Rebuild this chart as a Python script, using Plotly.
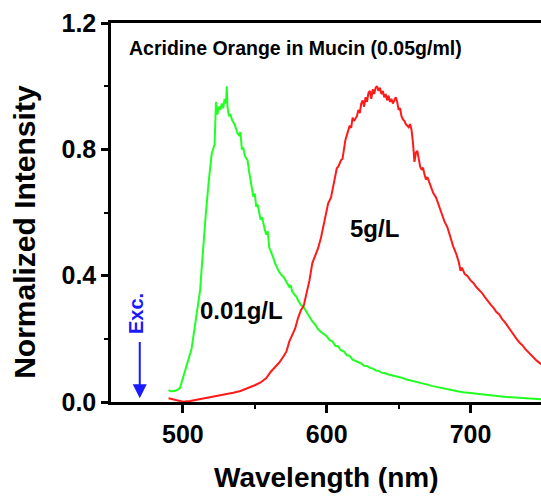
import plotly.graph_objects as go

# Emission spectra of acridine orange in mucin (normalized)
wl_low = [490, 492, 494, 496, 498, 500, 502, 504, 506, 508, 510, 512, 513, 514, 516, 518, 520,
          521, 522, 523, 524, 525, 526, 527, 528, 529, 530, 530.5, 531, 532, 533, 534, 535, 536,
          537, 538, 539, 540, 541, 542, 543, 544, 545, 546, 547, 548, 549, 550, 551, 552, 553,
          554, 555, 556, 557, 558, 559, 560, 561, 562, 563, 564, 565, 566, 567, 568, 570, 572,
          574, 575, 576, 578, 579, 580, 582, 584, 586, 588, 590, 592, 594, 596, 598, 600, 602,
          604, 606, 608, 610, 612, 614, 616, 618, 620, 622, 624, 626, 628, 630, 632, 634, 636,
          638, 640, 643, 646, 649, 652, 655, 658, 661, 664, 667, 670, 673, 676, 679, 682, 685,
          688, 691, 695, 700, 705, 710, 715, 720, 725, 730, 735, 740, 745, 750]
int_low = [0.037, 0.034, 0.035, 0.038, 0.045, 0.075, 0.105, 0.135, 0.168, 0.230, 0.300, 0.355,
           0.420, 0.490, 0.600, 0.700, 0.785, 0.800, 0.815, 0.950, 0.910, 0.935, 0.925, 0.945,
           0.930, 0.960, 0.945, 1.000, 0.935, 0.905, 0.912, 0.895, 0.888, 0.878, 0.865, 0.850,
           0.845, 0.855, 0.800, 0.805, 0.780, 0.770, 0.765, 0.730, 0.700, 0.685, 0.650, 0.660,
           0.618, 0.625, 0.595, 0.578, 0.585, 0.560, 0.545, 0.530, 0.540, 0.490, 0.480, 0.465,
           0.455, 0.440, 0.428, 0.420, 0.412, 0.405, 0.396, 0.378, 0.364, 0.370, 0.350, 0.338,
           0.333, 0.322, 0.308, 0.300, 0.285, 0.269, 0.255, 0.245, 0.230, 0.222, 0.215, 0.208,
           0.196, 0.192, 0.178, 0.176, 0.163, 0.160, 0.148, 0.146, 0.134, 0.130, 0.124, 0.122,
           0.115, 0.114, 0.108, 0.106, 0.100, 0.099, 0.093, 0.092, 0.087, 0.084, 0.079, 0.077,
           0.072, 0.069, 0.066, 0.062, 0.058, 0.055, 0.051, 0.048, 0.045, 0.041, 0.039, 0.036,
           0.034, 0.031, 0.028, 0.025, 0.023, 0.020, 0.018, 0.016, 0.014, 0.012, 0.011, 0.009,
           0.008]

wl_high = [490, 493, 496, 500, 505, 510, 515, 520, 525, 530, 535, 540, 545, 550, 554, 558, 561,
           564, 567, 570, 572, 574, 576, 578, 580, 582, 584, 586, 588, 590, 592, 594, 596, 598,
           599, 600, 601, 603, 605, 607, 608, 610, 611, 613, 615, 616, 617, 618, 619, 621, 622,
           623, 624, 625, 626, 627, 628, 629, 630, 631, 632, 633, 634, 635, 636, 637, 638, 639,
           640, 641, 642, 643, 644, 645, 646, 647, 648, 649, 650, 651, 652, 653, 654, 655, 656,
           657, 658, 659, 660, 661, 662, 663, 664, 665, 666, 667, 668, 669, 670, 672, 674, 676,
           678, 680, 682, 684, 686, 688, 690, 692, 693, 694, 696, 698, 700, 702, 704, 706, 708,
           710, 712, 714, 716, 718, 720, 722, 724, 726, 728, 730, 732, 734, 736, 738, 740, 742,
           744, 746, 748, 750]
int_high = [0.012, 0.008, 0.004, 0.001, 0.003, 0.007, 0.011, 0.015, 0.020, 0.024, 0.029, 0.035,
            0.043, 0.053, 0.062, 0.076, 0.095, 0.110, 0.125, 0.145, 0.160, 0.192, 0.210, 0.232,
            0.265, 0.290, 0.305, 0.345, 0.385, 0.440, 0.465, 0.487, 0.520, 0.560, 0.590, 0.605,
            0.629, 0.648, 0.700, 0.740, 0.745, 0.766, 0.770, 0.830, 0.860, 0.875, 0.868, 0.900,
            0.890, 0.905, 0.925, 0.915, 0.945, 0.955, 0.935, 0.965, 0.950, 0.978, 0.985, 0.960,
            0.990, 0.975, 0.995, 1.000, 0.985, 0.995, 0.975, 0.985, 0.965, 0.975, 0.955, 0.970,
            0.950, 0.960, 0.945, 0.955, 0.965, 0.950, 0.925, 0.930, 0.905, 0.895, 0.890, 0.880,
            0.875, 0.870, 0.880, 0.860, 0.820, 0.760, 0.790, 0.795, 0.770, 0.745, 0.735, 0.742,
            0.720, 0.705, 0.712, 0.690, 0.662, 0.648, 0.622, 0.600, 0.570, 0.552, 0.520, 0.492,
            0.470, 0.440, 0.415, 0.425, 0.405, 0.398, 0.385, 0.377, 0.364, 0.356, 0.345, 0.332,
            0.318, 0.308, 0.298, 0.285, 0.277, 0.262, 0.252, 0.238, 0.226, 0.214, 0.200, 0.188,
            0.180, 0.168, 0.158, 0.150, 0.140, 0.131, 0.124, 0.117]

label_low = "0.01g/L"
label_high = "5g/L"
title_text = "Acridine Orange in Mucin (0.05g/ml)"
exc_wl = 470

FONT = "Liberation Sans, Arial, sans-serif"

fig = go.Figure()
fig.add_trace(go.Scatter(x=wl_low, y=int_low, mode="lines",
                         line=dict(color="#22ff22", width=2), showlegend=False))
fig.add_trace(go.Scatter(x=wl_high, y=int_high, mode="lines",
                         line=dict(color="#ff1a1a", width=2), showlegend=False))

annotations = [
    dict(text="<b>%s</b>" % title_text, x=0.038, y=0.935, xref="paper", yref="paper",
         xanchor="left", yanchor="middle", showarrow=False,
         font=dict(family=FONT, size=19.5, color="black")),
    dict(text="<b>%s</b>" % label_low, x=541, y=0.29, xref="x", yref="y",
         xanchor="center", yanchor="middle", showarrow=False,
         font=dict(family=FONT, size=24, color="black")),
    dict(text="<b>%s</b>" % label_high, x=633, y=0.55, xref="x", yref="y",
         xanchor="center", yanchor="middle", showarrow=False,
         font=dict(family=FONT, size=24, color="black")),
    dict(text="<b>Exc.</b>", x=exc_wl - 3, y=0.28, xref="x", yref="y", textangle=-90,
         xanchor="center", yanchor="middle", showarrow=False,
         font=dict(family=FONT, size=20, color="#1a1aff")),
    dict(text="", x=exc_wl, y=0.012, ax=exc_wl, ay=0.195, xref="x", yref="y",
         axref="x", ayref="y", showarrow=True, arrowhead=2, arrowsize=1.4,
         arrowwidth=2, arrowcolor="#1a1aff"),
    dict(text="<b>Normalized Intensity</b>", x=-0.2, y=0.449, xref="paper", yref="paper",
         textangle=-90, xanchor="center", yanchor="middle", showarrow=False,
         font=dict(family=FONT, size=30, color="black")),
    dict(text="<b>Wavelength (nm)</b>", x=0.5, y=-0.199, xref="paper", yref="paper",
         xanchor="center", yanchor="middle", showarrow=False,
         font=dict(family=FONT, size=28, color="black")),
]

fig.update_layout(
    width=541, height=496,
    margin=dict(l=111, r=0, t=23, b=94),
    paper_bgcolor="white", plot_bgcolor="white",
    annotations=annotations,
    xaxis=dict(range=[450, 749], tickmode="array", tickvals=[500, 600, 700],
               ticks="outside", ticklen=8, tickwidth=2.5, tickcolor="black",
               showline=True, linecolor="black", linewidth=2.5, mirror=True,
               showgrid=False, zeroline=False,
               tickfont=dict(family=FONT, size=25, color="black", weight="bold"),
               minor=dict(tickvals=[550, 650], ticks="outside", ticklen=4,
                          tickwidth=2, tickcolor="black", showgrid=False)),
    yaxis=dict(range=[0, 1.2], tickmode="array", tickvals=[0.0, 0.4, 0.8, 1.2],
               ticktext=["0.0", "0.4", "0.8", "1.2"],
               ticks="outside", ticklen=7, tickwidth=2.5, tickcolor="black",
               showline=True, linecolor="black", linewidth=2.5, mirror=False,
               showgrid=False, zeroline=False,
               tickfont=dict(family=FONT, size=25, color="black", weight="bold"),
               minor=dict(tickvals=[0.2, 0.6, 1.0], ticks="outside", ticklen=4,
                          tickwidth=2, tickcolor="black", showgrid=False)),
)

fig.write_html("out.html")
